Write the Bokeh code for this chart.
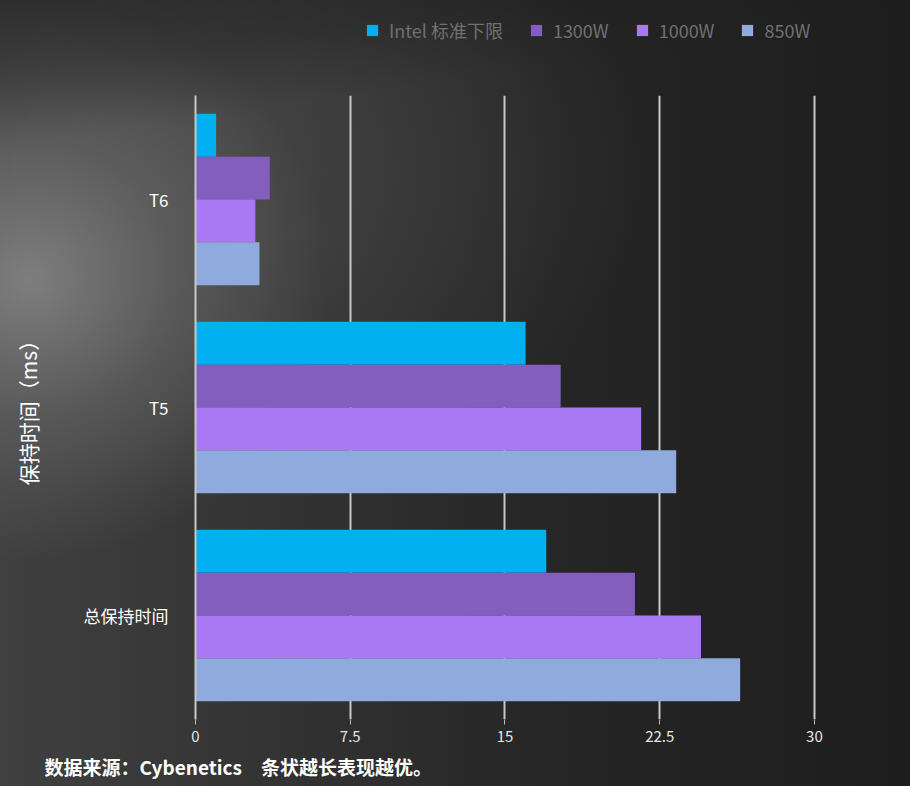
from bokeh.plotting import figure
from bokeh.layouts import column
from bokeh.models import (ColumnDataSource, FactorRange, Range1d, FixedTicker,
                          Legend, LegendItem, Title)
from bokeh.transform import dodge
from bokeh.embed import file_html
from bokeh.resources import INLINE

# ---- data ----
categories = ["T6", "T5", "总保持时间"]
series = ["Intel 标准下限", "1300W", "1000W", "850W"]
intel = [1.0, 16.0, 17.0]
w1300 = [3.6, 17.7, 21.3]
w1000 = [2.9, 21.6, 24.5]
w850 = [3.1, 23.3, 26.4]
x_ticks = [0, 7.5, 15, 22.5, 30]
x_tick_labels = ["0", "7.5", "15", "22.5", "30"]
y_title = "保持时间（ms）"
source_note = "数据来源：Cybenetics\u3000条状越长表现越优。"

colors = ["#00B0F0", "#845EBF", "#A979F3", "#8FAADC"]
FONT = "Noto Sans CJK SC"

src = ColumnDataSource(dict(cat=categories, s0=intel, s1=w1300, s2=w1000, s3=w850))
offsets = [0.309, 0.103, -0.103, -0.309]

# ---------- legend strip (top) ----------
# zero-height copies of the series: nothing is drawn, only the legend shows
pl = figure(width=910, height=95, output_backend="svg", toolbar_location=None,
            title=None, x_axis_location=None, y_axis_location=None,
            y_range=FactorRange(factors=list(reversed(categories))),
            x_range=Range1d(0, 30.1),
            min_border_left=0, min_border_right=0, min_border_top=0, min_border_bottom=0)
pl.grid.visible = False
pl.outline_line_alpha = 0
pl.background_fill_alpha = 0
pl.border_fill_alpha = 0
swatches = [pl.hbar(y=dodge("cat", off, range=pl.y_range), right=f"s{i}", left=0,
                    height=0, source=src, fill_color=c, line_color=None)
            for i, (off, c) in enumerate(zip(offsets, colors))]
items = [LegendItem(label=s, renderers=[r]) for s, r in zip(series, swatches)]
legend = Legend(items=items, orientation="horizontal", location=(170, 52),
                background_fill_alpha=0, border_line_alpha=0, padding=0, margin=0,
                spacing=26, glyph_width=14, glyph_height=14, label_standoff=10,
                label_text_color="#707070", label_text_font=FONT,
                label_text_font_size="18px")
pl.add_layout(legend, "center")

# ---------- main chart ----------
p = figure(width=910, height=691, output_backend="svg", toolbar_location=None,
           title=None,
           y_range=FactorRange(factors=list(reversed(categories))),
           x_range=Range1d(0, 30.1),
           min_border_left=195, min_border_right=94, min_border_top=0, min_border_bottom=64)
p.background_fill_alpha = 0
p.border_fill_alpha = 0
p.outline_line_alpha = 0

for i, (off, col) in enumerate(zip(offsets, colors)):
    p.hbar(y=dodge("cat", off, range=p.y_range), right=f"s{i}", left=0,
           height=0.206, source=src, fill_color=col, line_color=None)

# grid
p.ygrid.grid_line_color = None
p.xgrid.grid_line_color = "#c8c8c8"
p.xgrid.grid_line_width = 2
p.xaxis.ticker = FixedTicker(ticks=x_ticks)
p.xaxis.major_label_overrides = {t: l for t, l in zip(x_ticks, x_tick_labels)}

# x axis
p.xaxis.axis_line_alpha = 0
p.xaxis.major_tick_in = 0
p.xaxis.major_tick_out = 5
p.xaxis.major_tick_line_color = "#bbbbbb"
p.xaxis.minor_tick_line_color = None
p.xaxis.major_label_standoff = 6
p.xaxis.major_label_text_color = "#e6e6e6"
p.xaxis.major_label_text_font = FONT
p.xaxis.major_label_text_font_size = "15px"

# y axis
p.yaxis.axis_line_color = "#c8c8c8"
p.yaxis.axis_line_width = 2
p.yaxis.major_tick_line_color = None
p.yaxis.minor_tick_line_color = None
p.yaxis.major_label_standoff = 21
p.yaxis.major_label_text_color = "#ffffff"
p.yaxis.major_label_text_font = FONT
p.yaxis.major_label_text_font_size = "17px"
p.yaxis.axis_label = y_title
p.yaxis.axis_label_standoff = 38
p.yaxis.axis_label_text_color = "#ffffff"
p.yaxis.axis_label_text_font = FONT
p.yaxis.axis_label_text_font_style = "normal"
p.yaxis.axis_label_text_font_size = "21px"

# source note below
note = Title(text=source_note, align="left", offset=-151, standoff=13,
             text_color="#ffffff", text_font=FONT, text_font_size="19px",
             text_font_style="bold")
p.add_layout(note, "below")

layout = column(pl, p, spacing=0, styles={"background":
            "linear-gradient(172deg, rgba(28,28,28,0.55) 0%, rgba(28,28,28,0.35) 8%, rgba(28,28,28,0) 16%),"
            "radial-gradient(ellipse 300px 280px at 30px 280px, rgba(140,140,140,0.8) 0%, rgba(115,115,115,0.45) 50%, rgba(90,90,90,0) 100%),"
            "radial-gradient(ellipse 500px 320px at 150px 170px, rgba(80,80,80,0.7) 0%, rgba(60,60,60,0) 100%),"
            "linear-gradient(to right, #404040 0%, #333333 30%, #262626 60%, #1d1d1d 100%)"})

open("out.html", "w").write(file_html(layout, INLINE))
